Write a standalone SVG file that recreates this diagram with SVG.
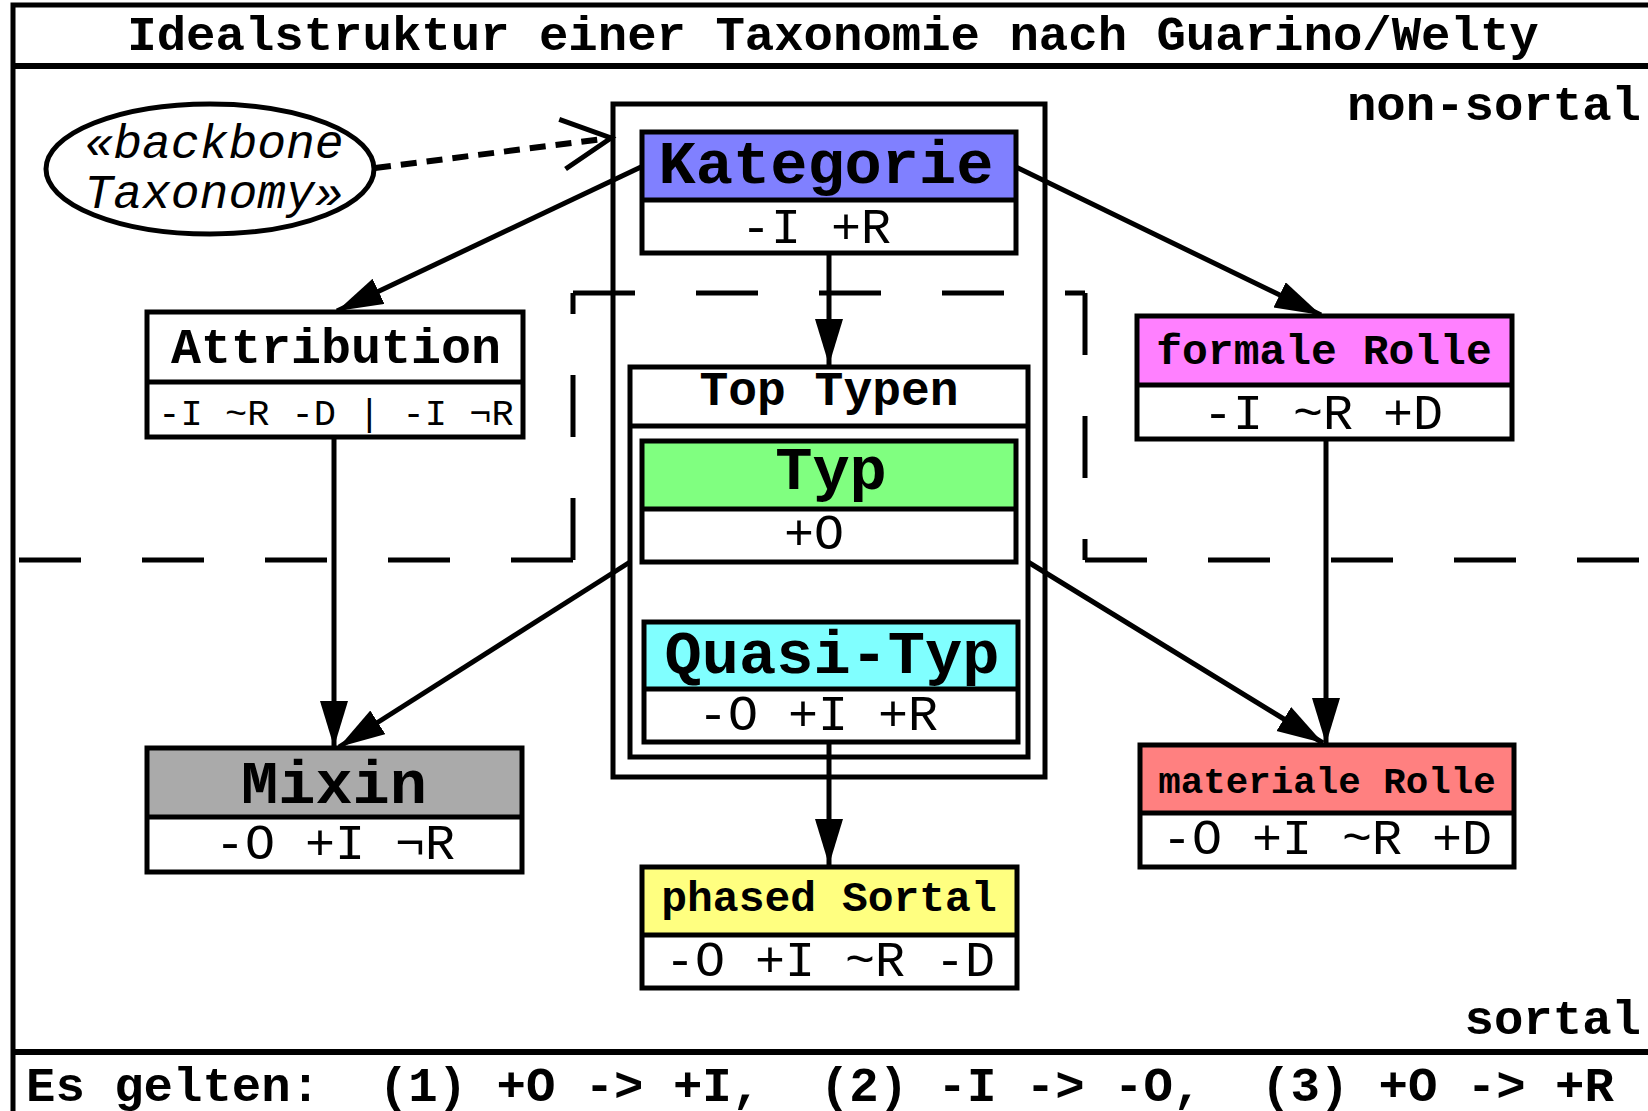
<svg xmlns="http://www.w3.org/2000/svg" width="1648" height="1111" viewBox="0 0 1648 1111">
<style>
.frame{fill:none;stroke:#000;stroke-width:5}
.div{stroke:#000;stroke-width:6}
.box{fill:none;stroke:#000;stroke-width:5}
.bg{fill:#fff}
.dash{fill:none;stroke:#000;stroke-width:5;stroke-dasharray:62 61}
.conn{fill:none;stroke:#000;stroke-width:5}
.dot{fill:none;stroke:#000;stroke-width:6;stroke-dasharray:16 10}
.b{font-family:"Liberation Mono","Courier New",monospace;font-weight:bold;fill:#000}
.r{font-family:"Liberation Mono","Courier New",monospace;fill:#000}
.i{font-family:"Liberation Mono","Courier New",monospace;font-style:italic;fill:#000}
.mid{text-anchor:middle}
</style>
<defs>
<marker id="arr" markerUnits="userSpaceOnUse" markerWidth="48" markerHeight="30" refX="46" refY="14" orient="auto" viewBox="0 0 48 30">
<path d="M0,0 L46,14 L0,28 z" fill="#000"/>
</marker>
<marker id="open" markerUnits="userSpaceOnUse" markerWidth="60" markerHeight="60" refX="52" refY="28" orient="auto" viewBox="0 0 60 60">
<path d="M3,3 L52,28 L3,53" fill="none" stroke="#000" stroke-width="5" stroke-dasharray="none"/>
</marker>
</defs>
<rect width="1648" height="1111" fill="#fff"/>
<g id="frame">
<rect class="frame" x="13" y="5" width="1700" height="1200"/>
<line class="div" x1="13" y1="66" x2="1648" y2="66"/>
<line class="div" x1="13" y1="1052" x2="1648" y2="1052"/>
<text class="b mid" x="833" y="50" font-size="49">Idealstruktur einer Taxonomie nach Guarino/Welty</text>
<text class="b" x="1641" y="120" font-size="49" text-anchor="end">non-sortal</text>
<text class="b" x="1641" y="1034" font-size="49" text-anchor="end">sortal</text>
<text class="b" x="26" y="1101" font-size="49" xml:space="preserve">Es gelten:  (1) +O -&gt; +I,  (2) -I -&gt; -O,  (3) +O -&gt; +R</text>
</g>
<g id="regions">
<line class="dash" x1="573" y1="560" x2="13" y2="560"/>
<line class="dash" x1="573" y1="560" x2="573" y2="293"/>
<line class="dash" x1="573" y1="293" x2="1085" y2="293"/>
<line class="dash" x1="1085" y1="293" x2="1085" y2="560"/>
<line class="dash" x1="1085" y1="560" x2="1648" y2="560"/>
</g>
<g id="backbone">
<ellipse cx="210" cy="169" rx="164" ry="65" fill="#fff" stroke="#000" stroke-width="5"/>
<text class="i mid" x="214" y="158" font-size="48">«backbone</text>
<text class="i mid" x="214" y="208" font-size="48">Taxonomy»</text>
</g>
<g id="kategorie-container">
<rect class="box" x="613" y="104" width="432" height="673"/>
</g>
<g id="kategorie">
<rect class="bg" x="642" y="132" width="374" height="121"/>
<rect x="642" y="132" width="374" height="68" fill="#8080FF"/>
<rect class="box" x="642" y="132" width="374" height="121"/>
<line class="box" x1="642" y1="200" x2="1016" y2="200"/>
<text class="b mid" x="826" y="183" font-size="62">Kategorie</text>
<text class="r mid" x="816" y="243" font-size="50">-I +R</text>
</g>
<g id="top-typen">
<rect class="bg" x="630" y="367" width="398" height="390"/>
<rect class="box" x="630" y="367" width="398" height="390"/>
<line class="box" x1="630" y1="426" x2="1028" y2="426"/>
<text class="b mid" x="829" y="405" font-size="48">Top Typen</text>
</g>
<g id="typ">
<rect class="bg" x="642" y="441" width="374" height="121"/>
<rect x="642" y="441" width="374" height="68" fill="#80FF80"/>
<rect class="box" x="642" y="441" width="374" height="121"/>
<line class="box" x1="642" y1="509" x2="1016" y2="509"/>
<text class="b mid" x="831" y="489" font-size="62">Typ</text>
<text class="r mid" x="814" y="549" font-size="50">+O</text>
</g>
<g id="quasi-typ">
<rect class="bg" x="644" y="622" width="374" height="120"/>
<rect x="644" y="622" width="374" height="67" fill="#80FFFF"/>
<rect class="box" x="644" y="622" width="374" height="120"/>
<line class="box" x1="644" y1="689" x2="1018" y2="689"/>
<text class="b mid" x="832" y="673" font-size="62">Quasi-Typ</text>
<text class="r mid" x="818" y="730" font-size="50">-O +I +R</text>
</g>
<g id="attribution">
<rect class="bg" x="147" y="312" width="376" height="125"/>
<rect class="box" x="147" y="312" width="376" height="125"/>
<line class="box" x1="147" y1="382" x2="523" y2="382"/>
<text class="b mid" x="336" y="363" font-size="50">Attribution</text>
<text class="r mid" x="336" y="425" font-size="37">-I ~R -D | -I ¬R</text>
</g>
<g id="formale-rolle">
<rect class="bg" x="1137" y="316" width="375" height="123"/>
<rect x="1137" y="316" width="375" height="69" fill="#FF80FF"/>
<rect class="box" x="1137" y="316" width="375" height="123"/>
<line class="box" x1="1137" y1="385" x2="1512" y2="385"/>
<text class="b mid" x="1324" y="364" font-size="43">formale Rolle</text>
<text class="r mid" x="1323" y="429" font-size="50">-I ~R +D</text>
</g>
<g id="mixin">
<rect class="bg" x="147" y="748" width="375" height="124"/>
<rect x="147" y="748" width="375" height="69" fill="#AAAAAA"/>
<rect class="box" x="147" y="748" width="375" height="124"/>
<line class="box" x1="147" y1="817" x2="522" y2="817"/>
<text class="b mid" x="334" y="803" font-size="62">Mixin</text>
<text class="r mid" x="335" y="859" font-size="50">-O +I ¬R</text>
</g>
<g id="materiale-rolle">
<rect class="bg" x="1140" y="745" width="374" height="122"/>
<rect x="1140" y="745" width="374" height="68" fill="#FF8080"/>
<rect class="box" x="1140" y="745" width="374" height="122"/>
<line class="box" x1="1140" y1="813" x2="1514" y2="813"/>
<text class="b mid" x="1327" y="793" font-size="37.5">materiale Rolle</text>
<text class="r mid" x="1327" y="854" font-size="50">-O +I ~R +D</text>
</g>
<g id="phased-sortal">
<rect class="bg" x="642" y="867" width="375" height="121"/>
<rect x="642" y="867" width="375" height="68" fill="#FFFF80"/>
<rect class="box" x="642" y="867" width="375" height="121"/>
<line class="box" x1="642" y1="935" x2="1017" y2="935"/>
<text class="b mid" x="829" y="911" font-size="43">phased Sortal</text>
<text class="r mid" x="830" y="976" font-size="50">-O +I ~R -D</text>
</g>
<g id="connectors">
<path class="dot" d="M375,168 L611,138" marker-end="url(#open)"/>
<path class="conn" d="M641,167 L337,311" marker-end="url(#arr)"/>
<path class="conn" d="M1016,167 L1321,315" marker-end="url(#arr)"/>
<path class="conn" d="M829,253 L829,365" marker-end="url(#arr)"/>
<path class="conn" d="M334,437 L334,747" marker-end="url(#arr)"/>
<path class="conn" d="M630,562 L339,747" marker-end="url(#arr)"/>
<path class="conn" d="M1028,562 L1323,743" marker-end="url(#arr)"/>
<path class="conn" d="M1326,439 L1326,744" marker-end="url(#arr)"/>
<path class="conn" d="M829,742 L829,865" marker-end="url(#arr)"/>
</g>
</svg>
